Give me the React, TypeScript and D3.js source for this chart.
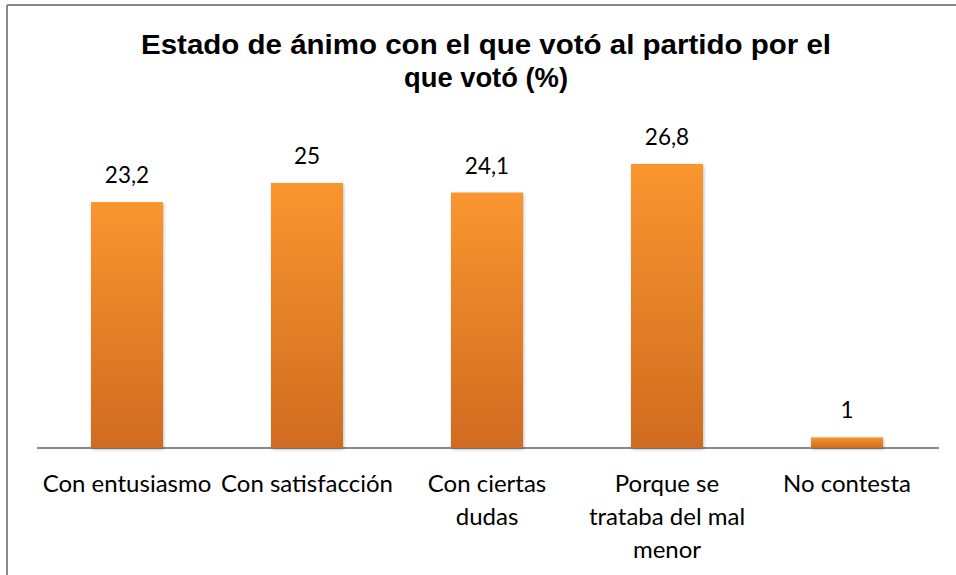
import React from "react";
import * as d3 from "d3";

const categories: string[][] = [
  ["Con entusiasmo"],
  ["Con satisfacción"],
  ["Con ciertas", "dudas"],
  ["Porque se", "trataba del mal", "menor"],
  ["No contesta"],
];
const values: number[] = [23.2, 25, 24.1, 26.8, 1];
const valueLabels: string[] = ["23,2", "25", "24,1", "26,8", "1"];
const titleLines: string[] = ["Estado de ánimo con el que votó al partido por el", "que votó (%)"];
const titleWidths: number[] = [690, 164];

const W = 956;
const H = 575;
const plotLeft = 37;
const plotRight = 937;
const baseY = 448;

export default function App() {
  const x = d3
    .scaleBand<number>()
    .domain(values.map((_, i) => i))
    .range([plotLeft, plotRight])
    .paddingInner(0.6)
    .paddingOuter(0.3);
  const y = d3.scaleLinear().domain([0, 25]).range([baseY, 183]);

  return (
    <svg
      width={W}
      height={H}
      style={{ position: "absolute", left: 0, top: 0, background: "#fff" }}
    >
      <defs>
        <linearGradient id="barGrad" x1="0" y1="0" x2="0" y2="1">
          <stop offset="0%" stopColor="#F9962F" />
          <stop offset="100%" stopColor="#D06B20" />
        </linearGradient>
        <filter id="shadow" x="-20%" y="-20%" width="140%" height="140%">
          <feDropShadow dx="1" dy="1.5" stdDeviation="1.5" floodColor="#000" floodOpacity="0.25" />
        </filter>
      </defs>
      <rect x={0} y={0} width={W} height={H} fill="#fff" />
      <line x1={7} y1={5} x2={W} y2={5} stroke="#888" strokeWidth={2} />
      <line x1={7} y1={5} x2={7} y2={H} stroke="#888" strokeWidth={2} />

      {titleLines.map((t, i) => (
        <text
          key={i}
          x={486}
          y={54 + i * 33}
          textAnchor="middle"
          fontFamily="'Liberation Sans', Arial, sans-serif"
          fontSize={27}
          fontWeight="bold"
          textLength={titleWidths[i]}
          lengthAdjust="spacingAndGlyphs"
          fill="#000"
        >
          {t}
        </text>
      ))}

      <line x1={plotLeft} y1={baseY} x2={939} y2={baseY} stroke="#888" strokeWidth={2} />

      {values.map((v, i) => (
        <rect
          key={i}
          x={x(i)!}
          y={y(v)}
          width={x.bandwidth()}
          height={baseY - y(v)}
          fill="url(#barGrad)"
          filter="url(#shadow)"
        />
      ))}

      {values.map((v, i) => (
        <text
          key={i}
          x={x(i)! + x.bandwidth() / 2}
          y={y(v) - 19}
          textAnchor="middle"
          fontFamily="Lato, 'Open Sans', sans-serif"
          fontSize={22.5}
          fill="#000"
        >
          {valueLabels[i]}
        </text>
      ))}

      {categories.map((lines, i) => (
        <text
          key={i}
          textAnchor="middle"
          fontFamily="Lato, 'Open Sans', sans-serif"
          fontSize={24}
          fill="#000"
        >
          {lines.map((l, j) => (
            <tspan key={j} x={x(i)! + x.bandwidth() / 2} y={492 + j * 33}>
              {l}
            </tspan>
          ))}
        </text>
      ))}
    </svg>
  );
}
